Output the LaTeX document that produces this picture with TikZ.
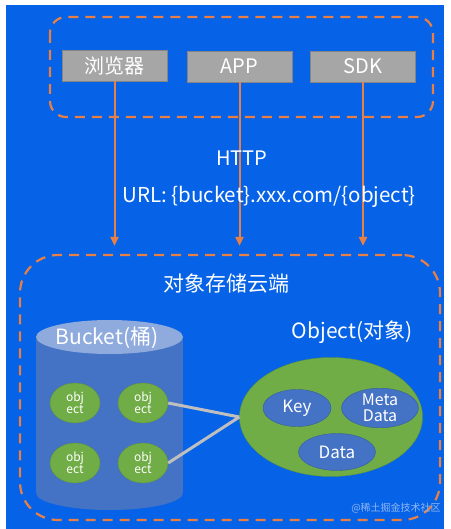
\documentclass[tikz,border=0pt]{standalone}
\usepackage{fontspec}
\setmainfont{Noto Sans CJK SC}
\usepackage{tikz}
\usetikzlibrary{shapes.geometric, arrows.meta}
\usepackage{xcolor}
\definecolor{bgblue}{RGB}{6,98,230}
\definecolor{dorange}{RGB}{232,128,70}
\definecolor{boxgray}{RGB}{166,166,166}
\definecolor{ogreen}{RGB}{112,173,71}
\definecolor{oblue}{RGB}{68,114,196}
\definecolor{otop}{RGB}{143,170,220}

\begin{document}
\begin{tikzpicture}[
    x=1pt, y=-1pt,
    client/.style={draw=boxgray!80!black, fill=boxgray, minimum width=105pt, minimum height=31pt, text=white, font=\fontsize{20}{20}\selectfont, inner sep=0pt},
    group/.style={draw=dorange, dashed, dash pattern=on 10pt off 7pt, line width=2.2pt},
    arrow/.style={->, line width=2pt, draw=dorange, shorten >=8pt, >={Triangle[length=9pt, width=8pt]}},
    label/.style={text=white, font=\fontsize{21}{21}\selectfont},
    obj/.style={ellipse, fill=ogreen, draw=ogreen!85!black, minimum width=50pt, minimum height=40pt, inner sep=0pt, align=center, text=white, font=\fontsize{12}{11}\selectfont},
    part/.style={ellipse, fill=oblue, draw=oblue!80!black, inner sep=0pt, align=center, text=white, font=\fontsize{17}{17}\selectfont},
    link/.style={draw=black!25, line width=3pt}
]
\useasboundingbox (0,0) rectangle (450,529);
\fill[bgblue] (6,5) rectangle (444,529);

% 客户端
\draw[group, rounded corners=16pt] (50,17) rectangle (433,117);
\node[client] (B) at (114.5,65.5) {浏览器};
\node[client] (A) at (239.5,66.5) {APP};
\node[client] (S) at (363,66.5) {SDK};

% 对象存储云端
\node[group, rounded corners=38pt, minimum width=420pt, minimum height=265pt, inner sep=0pt] (cloud) at (230,387.5) {};
\node[label] (title) at (226,284) {对象存储云端};

% 请求
\draw[arrow] (B.south) -- (B.south |- cloud.north);
\draw[arrow] (A.south) -- (A.south |- cloud.north);
\draw[arrow] (S.south) -- (S.south |- cloud.north);
\node[label, font=\fontsize{20}{20}\selectfont] (http) at (242,158) {HTTP};
\node[label, font=\fontsize{20.5}{20}\selectfont] (url) at (269,197) {URL: \{bucket\}.xxx.com/\{object\}};

% 桶
\fill[oblue] (36,337) rectangle (183,493);
\fill[oblue] (109.5,493) ellipse (73.5pt and 17pt);
\fill[otop] (109.5,337) ellipse (73.5pt and 17pt);
\node[label] (bucket) at (107,338) {Bucket(桶)};
\node[obj] (o1) at (75,403) {obj\\ect};
\node[obj] (o2) at (143,403) {obj\\ect};
\node[obj] (o3) at (75,463) {obj\\ect};
\node[obj] (o4) at (143,463) {obj\\ect};

% 对象
\node[label] (otitle) at (352,332) {Object(对象)};
\node[ellipse, fill=ogreen, draw=ogreen!85!black, minimum width=183pt, minimum height=119pt, inner sep=0pt] (O) at (331,417) {};
\node[part, minimum width=68pt, minimum height=37pt] (key) at (297,408) {Key};
\node[part, minimum width=77pt, minimum height=38pt, font=\fontsize{16}{16}\selectfont] (meta) at (380,408) {Meta\\Data};
\node[part, minimum width=77pt, minimum height=37pt] (data) at (337,452) {Data};
\draw[link] (o2.east) -- (O.west);
\draw[link] (o4.east) -- (O.west);

\node[text=white!55!bgblue, font=\fontsize{10}{10}\selectfont] (wm) at (396,508) {@稀土掘金技术社区};

\end{tikzpicture}
\end{document}
